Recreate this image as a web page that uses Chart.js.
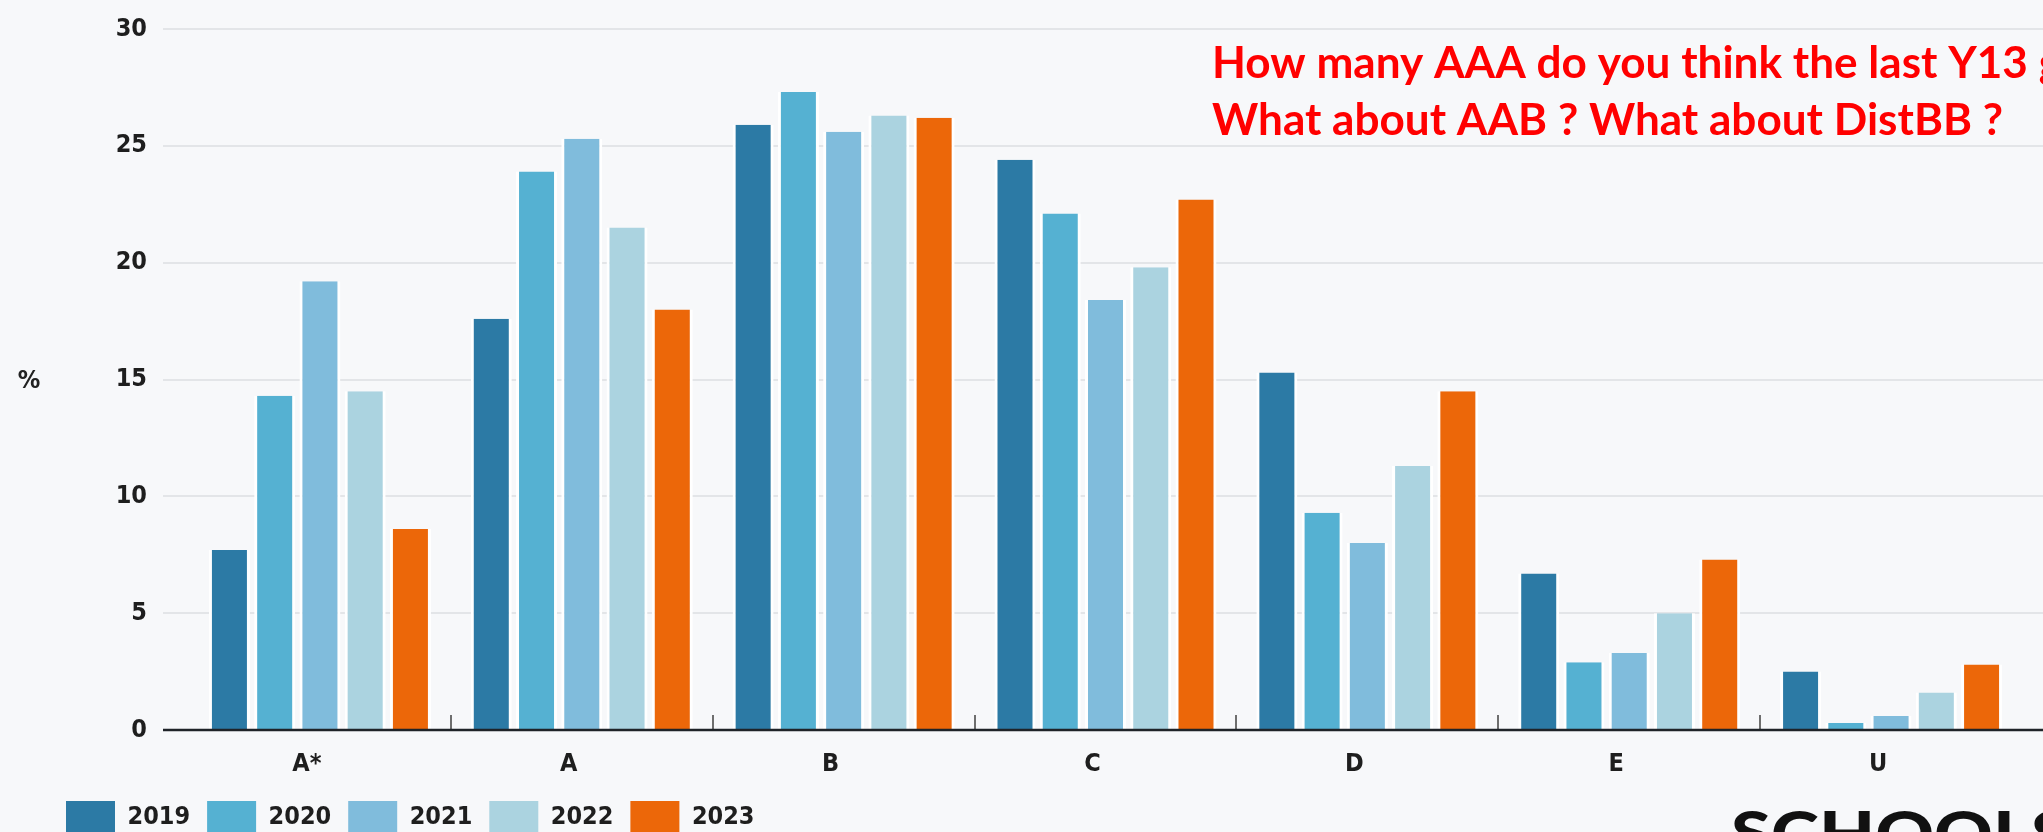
<!DOCTYPE html>
<html><head><meta charset="utf-8">
<script src="https://cdn.jsdelivr.net/npm/chart.js@4"></script>
<style>
html,body{margin:0;padding:0;background:#f7f8fa;overflow:hidden;width:2043px;height:832px}
#wrap{position:relative;width:2043px;height:843px}
</style></head><body>
<div id="wrap"><canvas id="c"></canvas></div>
<script>
const categories = ['A*', 'A', 'B', 'C', 'D', 'E', 'U'];
const years = ['2019', '2020', '2021', '2022', '2023'];
const v2019 = [7.7, 17.6, 25.9, 24.4, 15.3, 6.7, 2.5];
const v2020 = [14.3, 23.9, 27.3, 22.1, 9.3, 2.9, 0.3];
const v2021 = [19.2, 25.3, 25.6, 18.4, 8.0, 3.3, 0.6];
const v2022 = [14.5, 21.5, 26.3, 19.8, 11.3, 5.0, 1.6];
const v2023 = [8.6, 18.0, 26.2, 22.7, 14.5, 7.3, 2.8];
const yTicks = [0, 5, 10, 15, 20, 25, 30];
const yUnit = '%';
const questionLines = ['How many AAA do you think the last Y13 got ?', 'What about AAB ? What about DistBB ?'];
const logoText = 'SCHOOLS WEEK';

const colors = ['#2c7aa5', '#55b1d2', '#80bcdc', '#abd3e0', '#ec6709'];
const series = [v2019, v2020, v2021, v2022, v2023];
const FONT = '"DejaVu Sans Condensed", "Liberation Sans Narrow", "DejaVu Sans", sans-serif';
const BG = '#f7f8fa';
const EXT = 26;

const decor = {
  id: 'decor',
  beforeDraw(chart) {
    const {ctx, width, height} = chart;
    ctx.save(); ctx.fillStyle = BG; ctx.fillRect(0, 0, width, height); ctx.restore();
  },
  beforeDatasetsDraw(chart) {
    const {ctx, chartArea: a, scales: {y}} = chart;
    ctx.save();
    ctx.strokeStyle = '#e3e5e8'; ctx.lineWidth = 2;
    y.ticks.forEach(t => {
      if (t.value === 0) return;
      const py = Math.round(y.getPixelForValue(t.value));
      ctx.beginPath(); ctx.moveTo(a.left - EXT, py); ctx.lineTo(chart.width, py); ctx.stroke();
    });
    ctx.restore();
  },
  afterDatasetsDraw(chart) {
    const {ctx, chartArea: a, scales: {x, y}} = chart;
    const y0 = Math.round(y.getPixelForValue(0));
    ctx.save();
    ctx.strokeStyle = '#6e6e6e'; ctx.lineWidth = 2;
    for (let i = 1; i < categories.length; i++) {
      const px = Math.round((x.getPixelForValue(i - 1) + x.getPixelForValue(i)) / 2);
      ctx.beginPath(); ctx.moveTo(px, y0 - 15); ctx.lineTo(px, y0); ctx.stroke();
    }
    ctx.strokeStyle = '#1f2328'; ctx.lineWidth = 2.5;
    ctx.beginPath(); ctx.moveTo(a.left - EXT, y0); ctx.lineTo(chart.width, y0); ctx.stroke();
    ctx.restore();
  },
  afterDraw(chart) {
    const {ctx} = chart;
    const y = chart.scales.y;
    ctx.save();
    ctx.fillStyle = '#222'; ctx.font = 'bold 25px ' + FONT;
    ctx.textAlign = 'center'; ctx.textBaseline = 'middle';
    ctx.fillText(yUnit, 29, Math.round(y.getPixelForValue(15)) + 1);
    // question text
    ctx.fillStyle = '#ff0000'; ctx.textAlign = 'left'; ctx.textBaseline = 'alphabetic';
    ctx.font = 'bold 43px Lato, "Open Sans", sans-serif';
    const w2 = ctx.measureText(questionLines[1]).width;
    const sx = 791 / w2;
    [[questionLines[0], 78], [questionLines[1], 135]].forEach(([t, by]) => {
      ctx.save(); ctx.translate(1212, by); ctx.scale(sx, 1); ctx.fillText(t, 0, 0); ctx.restore();
    });
    // logo
    ctx.fillStyle = '#111';
    ctx.font = '900 60px Lato, "DejaVu Sans", sans-serif';
    const wl = ctx.measureText('SCHOOL').width;
    ctx.save(); ctx.translate(1731, 855); ctx.scale(300 / wl, 1); ctx.fillText(logoText, 0, 0); ctx.restore();
    ctx.restore();
  }
};

new Chart(document.getElementById('c'), {
  type: 'bar',
  data: {
    labels: categories,
    datasets: years.map((yr, i) => ({
      label: yr,
      data: series[i],
      backgroundColor: colors[i],
      borderColor: '#ffffff',
      borderWidth: {left: 3, right: 3, top: 0, bottom: 0},
      borderSkipped: false,
      categoryPercentage: 0.864,
      barPercentage: 0.906
    }))
  },
  options: {
    responsive: true,
    maintainAspectRatio: false,
    animation: false,
    layout: {padding: {left: 49, right: 21, top: 29, bottom: 0}},
    scales: {
      x: {
        grid: {display: false, drawTicks: false},
        border: {display: false},
        ticks: {font: {family: FONT, size: 25, weight: 'bold'}, color: '#1e1e1e', padding: 19, labelOffset: -13, maxRotation: 0},
        afterFit(s) { s.height = 54; }
      },
      y: {
        min: 0, max: 30,
        grid: {display: false, drawTicks: false},
        border: {display: false},
        ticks: {font: {family: FONT, size: 25, weight: 'bold'}, color: '#1e1e1e', padding: 42},
        afterBuildTicks(s) { s.ticks = yTicks.map(v => ({value: v})); },
        afterFit(s) { s.width = 140; s.paddingTop = 14; s.paddingBottom = 14; }
      }
    },
    plugins: {
      tooltip: {enabled: false},
      legend: {
        position: 'bottom',
        align: 'start',
        labels: {
          boxWidth: 49, boxHeight: 32, padding: 17,
          font: {family: FONT, size: 25, weight: 'bold'}, color: '#1e1e1e',
          generateLabels(chart) {
            const items = Chart.defaults.plugins.legend.labels.generateLabels(chart);
            items.forEach(it => { it.lineWidth = 0; it.strokeStyle = 'rgba(0,0,0,0)'; });
            return items;
          }
        }
      }
    }
  },
  plugins: [decor]
});
</script>
</body></html>
